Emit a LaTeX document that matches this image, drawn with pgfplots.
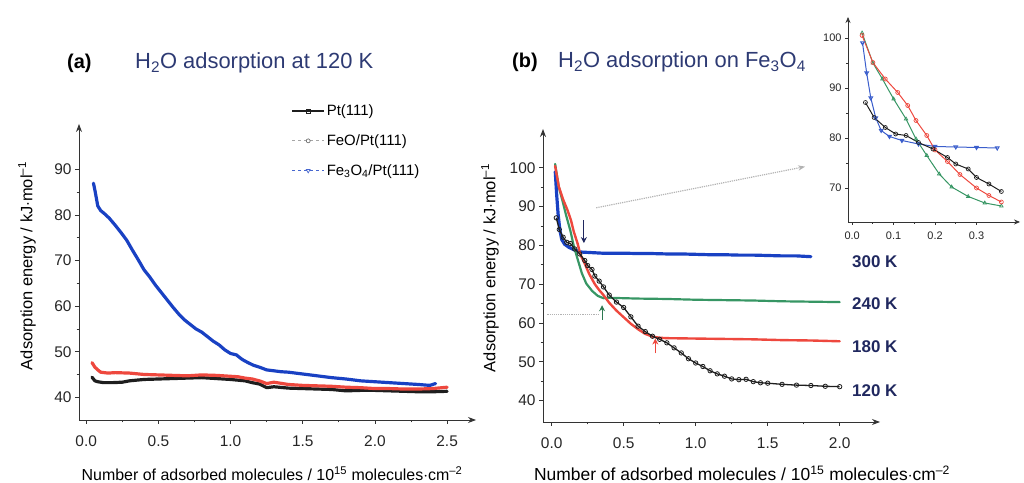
\documentclass[border=0pt]{standalone}
\usepackage{fontspec}
\setmainfont{Liberation Sans}
\usepackage{pgfplots}
\usepackage{pgfplotstable}
\pgfplotsset{compat=1.18}
\usetikzlibrary{arrows.meta}
\definecolor{navy}{RGB}{45,58,115}
\definecolor{knavy}{RGB}{32,40,95}
\definecolor{dblue}{RGB}{25,65,195}
\definecolor{dred}{RGB}{238,72,62}
\definecolor{dgreen}{RGB}{55,150,100}
\definecolor{dblack}{RGB}{30,30,30}

% panel (b) series, shared with the inset
\pgfplotstableread{
x y
0.025 99.0
0.035 93.0
0.045 88.0
0.057 84.0
0.070 81.5
0.090 80.3
0.120 79.5
0.160 78.8
0.200 78.3
0.250 78.2
0.300 78.1
0.350 78.0
0.400 78.0
0.500 78.0
0.600 77.9
0.700 77.9
0.800 77.8
0.900 77.8
1.000 77.7
1.100 77.6
1.200 77.6
1.300 77.5
1.400 77.5
1.500 77.4
1.600 77.3
1.700 77.3
1.800 77.1
}\tblue
\pgfplotstableread{
x y
0.024 101.0
0.050 95.0
0.073 91.8
0.100 87.8
0.130 83.8
0.154 79.8
0.180 76.5
0.210 72.8
0.240 70.2
0.280 68.3
0.320 67.0
0.360 66.4
0.400 66.5
0.500 66.4
0.600 66.3
0.800 66.2
1.000 66.0
1.200 65.9
1.400 65.8
1.600 65.6
1.800 65.5
2.000 65.4
}\tgreen
\pgfplotstableread{
x y
0.024 100.5
0.050 95.1
0.080 91.8
0.110 89.1
0.134 86.5
0.154 83.5
0.180 80.5
0.200 77.6
0.230 75.3
0.260 72.7
0.300 70.0
0.330 68.5
0.360 67.2
0.400 65.2
0.450 63.2
0.500 61.5
0.550 59.8
0.600 58.4
0.650 57.2
0.700 56.5
0.750 56.2
0.800 56.1
1.000 56.0
1.200 55.9
1.400 55.8
1.600 55.6
1.800 55.5
2.000 55.3
}\tred
\pgfplotstableread{
x y
0.032 87.1
0.053 84.1
0.080 82.1
0.105 80.8
0.130 80.5
0.160 79.1
0.195 77.8
0.230 76.1
0.250 74.8
0.280 73.8
0.300 72.1
0.330 70.8
0.360 69.3
0.400 67.2
0.450 65.4
0.500 64.0
0.550 61.6
0.600 59.2
0.650 57.8
0.700 56.6
0.750 55.8
0.800 54.9
0.850 53.6
0.900 52.3
0.950 50.8
1.000 49.7
1.050 48.8
1.100 47.7
1.150 46.9
1.200 46.3
1.250 45.6
1.300 45.4
1.350 45.5
1.400 44.9
1.450 44.6
1.500 44.5
1.600 44.2
1.700 44.0
1.800 43.9
1.900 43.7
2.000 43.6
}\tblack

\pgfplotsset{
  base/.style={scale only axis, axis lines=left, clip=false,
    axis line style={line width=0.9pt,draw=black!80,-{Stealth[length=8bp,width=6bp]}},
    tick align=outside, major tick length=4bp, minor tick length=2.5bp,
    tick style={black!80,line width=0.8pt}, minor tick num=1,
    /pgf/number format/assume math mode=true,
    tick label style={font=\fontsize{15.5}{18}\selectfont,text=black!85},
    xticklabel style={/tikz/yshift=-8bp,/pgf/number format/fixed,/pgf/number format/fixed zerofill,/pgf/number format/precision=1},
    yticklabel style={/pgf/number format/fixed}},
  band/.style={line width=3.2pt,line join=round,line cap=round},
}

\begin{document}
\begin{tikzpicture}[x=1bp,y=1bp]
\path[use as bounding box] (0,0) rectangle (1024,483);

% ---------- (a)
\node[anchor=west,inner sep=0,font=\fontsize{20}{22}\selectfont\bfseries] at (67,420) {(a)};
\node[anchor=west,inner sep=0,text=navy,font=\fontsize{22}{24}\selectfont] at (135,420) {H\textsubscript{2}O adsorption at 120 K};
\begin{axis}[base, at={(79bp,63bp)}, anchor=south west, width=397bp, height=296bp,
  xmin=-0.05, xmax=2.7, ymin=35, ymax=100,
  xtick={0,0.5,...,2.5}, ytick={40,50,...,90},
  legend style={at={(axis description cs:0.535,1.072)},anchor=north west,draw=none,fill=none,
    font=\fontsize{15}{18}\selectfont,row sep=13.5bp,inner sep=0pt},
  legend cell align=left,
  legend image code/.code={\draw[mark repeat=2,mark phase=2,#1] plot coordinates {(0bp,0bp) (16bp,0bp) (32bp,0bp)};}]
\addlegendimage{dblack,line width=1.2pt,mark=square,mark size=2pt,mark options={solid,line width=0.7pt}}
\addlegendentry{Pt(111)}
\addlegendimage{black!35,dashed,line width=1pt,mark=o,mark size=2pt,mark options={solid,black!55,line width=0.7pt}}
\addlegendentry{FeO/Pt(111)}
\addlegendimage{dblue!80,dashed,line width=0.9pt,mark=triangle,mark size=2.2pt,mark options={solid,rotate=180,line width=0.7pt}}
\addlegendentry{Fe\textsubscript{3}O\textsubscript{4}/Pt(111)}
\addplot[band,dblack,forget plot] coordinates {
(0.04,44.4)(0.06,43.6)(0.08,43.4)(0.12,43.2)(0.18,43.2)(0.25,43.3)(0.30,43.6)(0.40,43.9)
(0.50,44.0)(0.60,44.1)(0.70,44.2)(0.80,44.3)(0.90,44.1)(1.00,43.9)(1.10,43.6)(1.15,43.2)
(1.20,42.9)(1.25,42.1)(1.30,42.3)(1.40,42.0)(1.50,41.9)(1.60,41.8)(1.70,41.7)(1.80,41.4)
(1.90,41.5)(2.00,41.5)(2.10,41.4)(2.20,41.3)(2.30,41.2)(2.40,41.2)(2.50,41.3)};
\addplot[band,dred,forget plot] coordinates {
(0.04,47.6)(0.06,46.6)(0.08,46.0)(0.10,45.5)(0.15,45.3)(0.20,45.4)(0.30,45.3)(0.40,45.0)
(0.50,44.9)(0.60,44.8)(0.70,44.7)(0.80,44.9)(0.90,44.8)(1.00,44.6)(1.05,44.5)(1.10,44.2)
(1.15,44.0)(1.20,43.6)(1.25,43.0)(1.30,43.3)(1.40,42.8)(1.50,42.6)(1.60,42.5)(1.70,42.4)
(1.80,42.2)(1.90,42.1)(2.00,41.9)(2.10,41.9)(2.20,41.8)(2.30,41.8)(2.40,41.9)(2.50,42.2)};
\addplot[band,dblue,forget plot] coordinates {
(0.05,87.0)(0.06,85.5)(0.08,82.0)(0.10,81.0)(0.13,80.2)(0.16,79.3)(0.20,77.8)(0.24,76.2)
(0.28,74.5)(0.32,72.3)(0.36,70.2)(0.40,68.0)(0.44,66.4)(0.48,64.6)(0.52,63.0)(0.56,61.4)
(0.60,59.8)(0.64,58.3)(0.68,57.0)(0.72,56.0)(0.76,55.0)(0.80,54.3)(0.84,53.3)(0.88,52.3)
(0.92,51.5)(0.96,50.4)(1.00,49.6)(1.04,49.3)(1.08,48.3)(1.12,47.6)(1.16,47.0)(1.20,46.6)
(1.25,46.0)(1.30,45.8)(1.35,45.6)(1.40,45.5)(1.50,45.1)(1.60,44.7)(1.70,44.3)(1.80,44.0)
(1.90,43.6)(2.00,43.4)(2.10,43.2)(2.20,43.0)(2.30,42.8)(2.38,42.6)(2.42,43.0)};
\end{axis}
\node[rotate=90,font=\fontsize{16.5}{19}\selectfont] at (27,217) {Adsorption energy / kJ$\cdot$mol\textsuperscript{–1}};
\node[font=\fontsize{16}{19}\selectfont] at (272,9) {Number of adsorbed molecules / 10\textsuperscript{15} molecules$\cdot$cm\textsuperscript{–2}};

% ---------- (b)
\node[anchor=west,inner sep=0,font=\fontsize{20}{22}\selectfont\bfseries] at (512,421) {(b)};
\node[anchor=west,inner sep=0,text=navy,font=\fontsize{22}{24}\selectfont] at (558,421) {H\textsubscript{2}O adsorption on Fe\textsubscript{3}O\textsubscript{4}};
\begin{axis}[base, at={(543bp,61bp)}, anchor=south west, width=337bp, height=293bp,
  xmin=-0.06, xmax=2.28, ymin=34.5, ymax=110,
  xtick={0,0.5,...,2}, ytick={40,50,...,100}]
\draw[black!30,densely dotted,line width=1.2pt] (axis cs:-0.03,62.2) -- (axis cs:0.33,62.2);
\draw[black!30,densely dotted,line width=1.2pt,-{Stealth[length=7bp]}] (axis cs:0.31,89.7) -- (axis cs:1.76,100.3);
\addplot[band,dblue] table[x=x,y=y] {\tblue};
\addplot[band,dgreen,line width=2.2pt] table[x=x,y=y] {\tgreen};
\addplot[band,dred,line width=2.4pt] table[x=x,y=y] {\tred};
\addplot[dblack,line width=1.3pt,mark=o,mark size=2.2pt,mark options={line width=0.8pt}] table[x=x,y=y] {\tblack};
\draw[knavy,line width=1pt,-{Stealth[length=6bp,width=6bp]}] (axis cs:0.224,86.5) -- (axis cs:0.224,80.6);
\draw[dgreen!80!black,line width=1pt,-{Stealth[length=6bp,width=6bp]}] (axis cs:0.35,60.8) -- (axis cs:0.35,64.6);
\draw[dred,line width=1pt,-{Stealth[length=6bp,width=6bp]}] (axis cs:0.72,52.2) -- (axis cs:0.72,56.0);
\end{axis}
\node[rotate=90,font=\fontsize{16.5}{19}\selectfont] at (490,215) {Adsorption energy / kJ$\cdot$mol\textsuperscript{–1}};
\node[font=\fontsize{17.5}{20}\selectfont] at (742,10) {Number of adsorbed molecules / 10\textsuperscript{15} molecules$\cdot$cm\textsuperscript{–2}};
\begin{scope}[every node/.style={anchor=west,inner sep=0,text=knavy,font=\fontsize{17}{20}\selectfont\bfseries}]
\node at (852,221) {300 K};
\node at (852,179) {240 K};
\node at (852,136) {180 K};
\node at (852,92) {120 K};
\end{scope}

% ---------- inset
\begin{axis}[base, at={(848bp,261bp)}, anchor=south west, width=172bp, height=205bp,
  xmin=-0.01, xmax=0.405, ymin=63.2, ymax=104.2,
  xtick={0,0.1,0.2,0.3}, ytick={70,80,90,100},
  major tick length=3bp, minor tick length=2bp,
  axis line style={line width=0.8pt,draw=black!80,-{Stealth[length=6bp,width=5bp]}},
  tick label style={font=\fontsize{11}{13}\selectfont,text=black!85},
  xticklabel style={/tikz/yshift=5bp},
  every axis plot/.append style={restrict x to domain=0:0.365,line width=1pt,mark size=2pt,mark options={line width=0.7pt}}]
\addplot[dblue!85,mark=triangle,mark options={rotate=180}] table[x=x,y=y] {\tblue};
\addplot[dgreen,mark=triangle] table[x=x,y=y] {\tgreen};
\addplot[dred,mark=o] table[x=x,y=y] {\tred};
\addplot[dblack,mark=o] table[x=x,y=y] {\tblack};
\end{axis}
\end{tikzpicture}
\end{document}
